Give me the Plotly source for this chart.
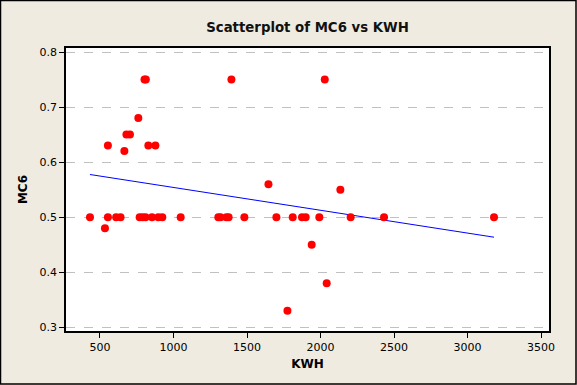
import numpy as np
import plotly.graph_objects as go

kwh = [803, 812, 1394, 2029,
       761,
       680, 704,
       554, 829, 877,
       666,
       1646,
       2135,
       432, 554, 610, 640, 770, 790, 810, 854, 897, 924, 1049, 1305, 1320, 1360, 1375,
       1482, 1700, 1811, 1874, 1899, 1992, 2205, 2432, 3180,
       534,
       1940,
       2042,
       1775]
mc6 = [0.75, 0.75, 0.75, 0.75,
       0.68,
       0.65, 0.65,
       0.63, 0.63, 0.63,
       0.62,
       0.56,
       0.55,
       0.5, 0.5, 0.5, 0.5, 0.5, 0.5, 0.5, 0.5, 0.5, 0.5, 0.5, 0.5, 0.5, 0.5, 0.5,
       0.5, 0.5, 0.5, 0.5, 0.5, 0.5, 0.5, 0.5, 0.5,
       0.48,
       0.45,
       0.38,
       0.33]

x_ticks = [500, 1000, 1500, 2000, 2500, 3000, 3500]
y_ticks = [0.3, 0.4, 0.5, 0.6, 0.7, 0.8]

x = np.array(kwh, dtype=float)
y = np.array(mc6, dtype=float)
slope, intercept = np.polyfit(x, y, 1)
fx = np.array([x.min(), x.max()])
fy = intercept + slope * fx

fig = go.Figure()
fig.add_trace(go.Scatter(x=fx, y=fy, mode="lines",
                         line=dict(color="#0000FF", width=1), hoverinfo="skip"))
fig.add_trace(go.Scatter(x=kwh, y=mc6, mode="markers",
                         marker=dict(color="#FF0000", size=8, line=dict(width=0))))

W, H = 577, 385
L, R, T, B = 66, 28, 48, 54
pw, ph = W - L - R, H - T - B

fig.update_layout(
    width=W, height=H,
    margin=dict(l=L, r=R, t=T, b=B),
    paper_bgcolor="#EFEBE0",
    plot_bgcolor="#FFFFFF",
    showlegend=False,
    font=dict(family="DejaVu Sans", size=11, color="#000000"),
    title=dict(text="<b>Scatterplot of MC6 vs KWH</b>", x=0.5, xref="paper",
               xanchor="center", y=1 - 27 / H, yanchor="middle",
               font=dict(family="DejaVu Sans", size=13.3, color="#111111")),
    xaxis=dict(range=[269, 3554], tickvals=x_ticks, ticks="outside", ticklen=5,
               tickcolor="#000000", showline=True, linecolor="#000000", linewidth=1.5,
               mirror=True, showgrid=False, zeroline=False,
               title=dict(text="<b>KWH</b>", standoff=7, font=dict(size=12))),
    yaxis=dict(range=[0.2933, 0.8073], tickvals=y_ticks, tickformat=".1f",
               ticks="outside", ticklen=5, tickcolor="#000000", showline=True,
               linecolor="#000000", linewidth=1.5, mirror=True, showgrid=True,
               gridcolor="#C0C0C0", griddash="dash", gridwidth=1, zeroline=False,
               title=dict(text="<b>MC6</b>", standoff=9, font=dict(size=12))),
)

fig.add_shape(type="rect", xref="paper", yref="paper",
              x0=-(L - 0.5) / pw, x1=1 + (R - 1) / pw,
              y0=-(B - 1) / ph, y1=1 + (T - 0.5) / ph,
              line=dict(color="#000000", width=1.5), fillcolor="rgba(0,0,0,0)", layer="above")

fig.write_html("out.html", config={"displayModeBar": False},
               post_script="document.body.style.margin='0';document.body.style.padding='0';")
